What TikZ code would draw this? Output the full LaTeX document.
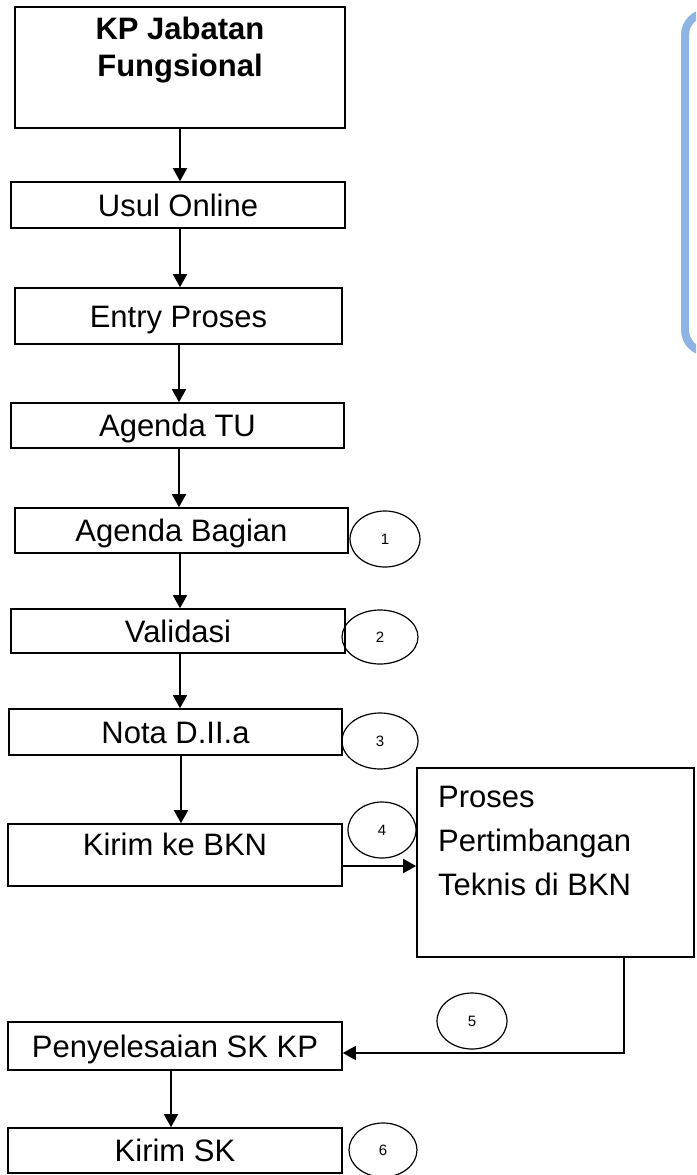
\documentclass[tikz,border=0pt]{standalone}
\usepackage{fontspec}
\setmainfont{Liberation Sans}
\usetikzlibrary{shapes.geometric,arrows.meta}
\newcommand\boxfont{\fontsize{31}{44}\selectfont}
\newcommand\titlefont{\fontsize{31}{37}\selectfont\bfseries}
\definecolor{blueline}{HTML}{8EB4E3}
\tikzset{
  box/.style={draw, line width=1.6pt, inner sep=0pt, text height=22.5pt, text depth=0pt, font=\boxfont},
  num/.style={draw, ellipse, line width=1.2pt, inner sep=0pt, font=\fontsize{15}{18}\selectfont},
  arr/.style={line width=1.6pt, -{Triangle[length=13pt,width=14pt]}},
  txt/.style={inner sep=0pt, font=\boxfont},
}
\begin{document}
\begin{tikzpicture}[x=1pt,y=-1pt]
\useasboundingbox (0,0) rectangle (696,1175);
\clip (0,0) rectangle (696,1175);
% blue rounded box (partly outside)
\draw[line width=8pt, blueline, rounded corners=22pt] (685,13) rectangle (780,352);

% boxes
\node[box, minimum width=330pt, minimum height=121pt] (kp) at (180,67.5) {};
\node[txt, font=\titlefont, align=center, anchor=north] at (180,16.5) {KP Jabatan\\Fungsional};
\node[box, minimum width=334pt, minimum height=46pt] (usul) at (178,205) {Usul Online};
\node[box, minimum width=327pt, minimum height=56pt] (entry) at (178.5,316) {Entry Proses};
\node[box, minimum width=333pt, minimum height=45pt] (tu) at (177.5,425.5) {Agenda TU};
\node[box, minimum width=333pt, minimum height=45pt] (bagian) at (181.5,530.5) {Agenda Bagian};
\node[box, minimum width=334pt, minimum height=44pt] (valid) at (178,631) {Validasi};
\node[box, minimum width=333pt, minimum height=46pt] (nota) at (175.5,732) {Nota D.II.a};
\node[box, minimum width=334pt, minimum height=62pt] (kirim) at (175,855) {};
\node[txt, text height=22.5pt, text depth=0pt] at (175,844) {Kirim ke BKN};
\node[box, minimum width=334pt, minimum height=48pt] (selesai) at (175,1046) {Penyelesaian SK KP};
\node[box, minimum width=334pt, minimum height=45pt] (kirimsk) at (175,1150.5) {Kirim SK};
\node[box, minimum width=277pt, minimum height=189pt] (proses) at (555.5,862.5) {};
\node[txt, align=left, anchor=north west] at (438,786) {Proses\\Pertimbangan\\Teknis di BKN};

% numbered circles
\node[num, minimum width=70pt, minimum height=56pt] (c1) at (385,539) {1};
\node[num, minimum width=76pt, minimum height=54pt] (c2) at (380,637) {2};
\node[num, minimum width=76pt, minimum height=56pt] (c3) at (380,741) {3};
\node[num, minimum width=68pt, minimum height=56pt] (c4) at (382,830) {4};
\node[num, minimum width=70pt, minimum height=56pt] (c5) at (472,1021) {5};
\node[num, minimum width=68pt, minimum height=54pt] (c6) at (383,1150) {6};

% connectors
\draw[arr] (kp.south -| 180,0) -- (usul.north -| 180,0);
\draw[arr] (usul.south -| 180,0) -- (entry.north -| 180,0);
\draw[arr] (entry.south -| 179,0) -- (tu.north -| 179,0);
\draw[arr] (tu.south -| 179,0) -- (bagian.north -| 179,0);
\draw[arr] (bagian.south -| 180,0) -- (valid.north -| 180,0);
\draw[arr] (valid.south -| 180,0) -- (nota.north -| 180,0);
\draw[arr] (nota.south -| 181,0) -- (kirim.north -| 181,0);
\draw[arr] (kirim.east |- 0,866) -- (proses.west |- 0,866);
\draw[arr] (proses.south -| 624,0) |- (selesai.east |- 0,1053);
\draw[arr] (selesai.south -| 171,0) -- (kirimsk.north -| 171,0);
\end{tikzpicture}
\end{document}
